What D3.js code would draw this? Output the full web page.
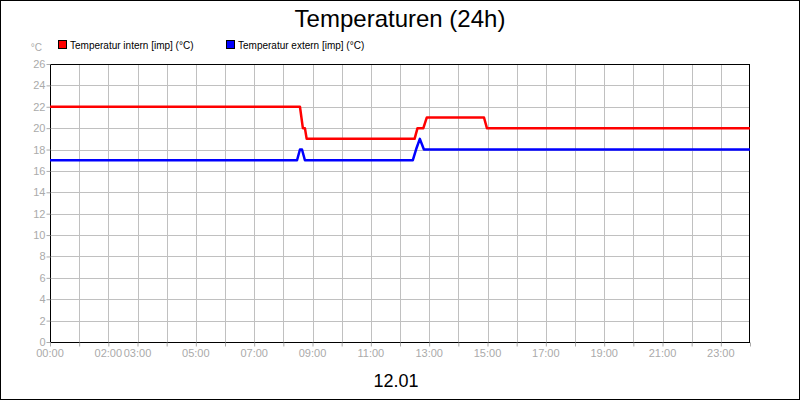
<!DOCTYPE html>
<html><head><meta charset="utf-8">
<script src="https://cdn.jsdelivr.net/npm/d3@7"></script>
<style>body{margin:0;background:#fff}svg{display:block}</style>
</head><body><svg id="c" width="800" height="400"></svg>
<script>
const seriesNames = ["Temperatur intern [imp] (°C)", "Temperatur extern [imp] (°C)"];
const seriesColors = ["#ff0000", "#0000ff"];
// hours since 00:00
const internHours = [0, 8.57, 8.67, 8.74, 8.8, 12.5, 12.6, 12.8, 12.92, 14.88, 14.98, 24];
const internValues = [22, 22, 20, 20, 19, 19, 20, 20, 21, 21, 20, 20];
const externHours = [0, 8.47, 8.57, 8.64, 8.74, 12.44, 12.55, 12.68, 12.82, 24];
const externValues = [17, 17, 18, 18, 17, 17, 18, 19, 18, 18];
const yTicks = [0,2,4,6,8,10,12,14,16,18,20,22,24,26];
const xTickHours = [0,2,3,5,7,9,11,13,15,17,19,21,23];
const xTickLabels = ["00:00","02:00","03:00","05:00","07:00","09:00","11:00","13:00","15:00","17:00","19:00","21:00","23:00"];

const svg = d3.select("#c").style("font-family","Arial, 'Liberation Sans', sans-serif");
svg.append("rect").attr("x",0.5).attr("y",0.5).attr("width",799).attr("height",399).attr("fill","#fff").attr("stroke","#000");
const L=50,R=750,T=64,B=342;
const x=d3.scaleLinear().domain([0,24]).range([L,R]);
const y=d3.scaleLinear().domain([0,26]).range([B,T]);
const g=svg.append("g");
d3.range(1,24).forEach(h=>g.append("line").attr("x1",Math.round(x(h))+0.5).attr("x2",Math.round(x(h))+0.5).attr("y1",T).attr("y2",B).attr("stroke","#c0c0c0"));
yTicks.slice(1,-1).forEach(v=>g.append("line").attr("x1",L).attr("x2",R).attr("y1",Math.round(y(v))+0.5).attr("y2",Math.round(y(v))+0.5).attr("stroke","#c0c0c0"));
svg.append("rect").attr("x",L+0.5).attr("y",T+0.5).attr("width",R-L-1).attr("height",B-T).attr("fill","none").attr("stroke","#000");
// y axis
const ya=svg.append("g").attr("transform",`translate(${L+0.5},0)`).call(d3.axisLeft(y).tickValues(yTicks).tickSize(4).tickFormat(d3.format("d")));
ya.select(".domain").remove();
ya.selectAll("line").attr("stroke","#aaa");
ya.selectAll("text").attr("fill","#aaa").style("font-size","11px").attr("x",-5);
// x axis
const xa=svg.append("g").attr("transform",`translate(0,${B+0.5})`).call(d3.axisBottom(x).tickValues(d3.range(0,25)).tickSize(4).tickFormat(()=>""));
xa.select(".domain").remove();
xa.selectAll("line").attr("stroke","#aaa");
xTickHours.forEach((h,i)=>svg.append("text").attr("x",x(h)).attr("y",B+15).attr("text-anchor","middle").attr("fill","#aaa").style("font-size","11px").text(xTickLabels[i]));
svg.append("text").attr("x",42).attr("y",51).attr("text-anchor","end").attr("fill","#aaa").style("font-size","10px").text("°C");
// lines
const line=d3.line().x(d=>x(d[0])).y(d=>y(d[1]));
[[internHours,internValues],[externHours,externValues]].forEach((s,i)=>{
  svg.append("path").datum(s[0].map((h,j)=>[h,s[1][j]])).attr("d",line).attr("fill","none").attr("stroke",seriesColors[i]).attr("stroke-width",2.5).attr("stroke-linejoin","round");
});
// legend
const lx=[58,226];
seriesNames.forEach((n,i)=>{
  svg.append("rect").attr("x",lx[i]+0.5).attr("y",40.5).attr("width",8).attr("height",8).attr("fill",seriesColors[i]).attr("stroke","#000");
  svg.append("text").attr("x",lx[i]+12).attr("y",49).style("font-size","10px").attr("fill","#000").text(n);
});
svg.append("text").attr("x",400).attr("y",27).attr("text-anchor","middle").style("font-size","24px").text("Temperaturen (24h)");
svg.append("text").attr("x",396).attr("y",387).attr("text-anchor","middle").style("font-size","18px").text("12.01");
</script></body></html>
